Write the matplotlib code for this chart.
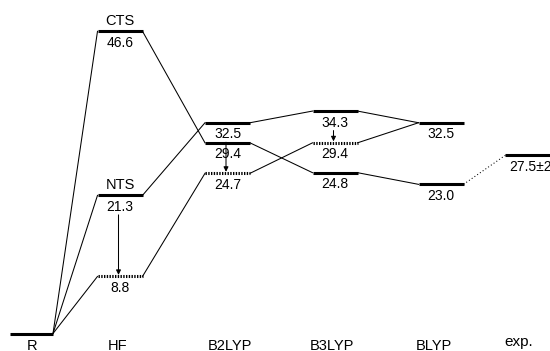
import matplotlib
matplotlib.use("Agg")
import matplotlib.pyplot as plt

# Energy levels (kcal/mol) relative to the reactant R
methods = ["R", "HF", "B2LYP", "B3LYP", "BLYP", "exp."]
reactant_energy = 0.0
cts_energy = [46.6, 29.4, 24.8, 23.0]        # HF, B2LYP, B3LYP, BLYP
nts_energy = [21.3, 32.5, 34.3, 32.5]        # HF, B2LYP, B3LYP, BLYP
nts_corr_energy = [8.8, 24.7, 29.4]          # HF, B2LYP, B3LYP (dashed)
exp_energy = 27.5
exp_label = "27.5\u00b12"

# Layout (pixel-like horizontal units)
centers = [31.5, 120, 227.5, 335, 441, 528]
label_x = [32, 118, 230, 332, 434, 519]
label_base_px = [350.5, 350.5, 350.5, 350.5, 350.5, 346]
half = 22.5
px_per_unit = 6.485
y0_px = 333.5
H_px, W_px = 351, 550

plt.rcParams["font.family"] = ["Liberation Sans", "DejaVu Sans"]
fig = plt.figure(figsize=(5.5, 3.51), dpi=100)
ax = fig.add_axes([0, 0, 1, 1])
ax.set_xlim(0, W_px)
ax.set_ylim(-(H_px - y0_px) / px_per_unit, y0_px / px_per_unit)
ax.axis("off")

BAR_LW = 2.2
LINK_LW = 0.75
NUM_FS = 10
NAME_FS = 10.5


def pt(px):
    return px / 1.389


def bar(i, v, dashed=False, x0=None, x1=None):
    a = centers[i] - half if x0 is None else x0
    b = centers[i] + half if x1 is None else x1
    ls = (0, (0.45, 0.45)) if dashed else "-"
    ax.plot([a, b], [v, v], color="black", lw=BAR_LW, ls=ls,
            solid_capstyle="butt", dash_capstyle="butt")


def link(i, v1, j, v2, ls="-"):
    ax.plot([centers[i] + half, centers[j] - half], [v1, v2],
            color="black", lw=LINK_LW, ls=ls)


def value_label(i, v, text=None, x=None):
    ax.annotate(text if text is not None else f"{v:.1f}",
                xy=(centers[i] if x is None else x, v),
                xytext=(0, -pt(15.5)), textcoords="offset points",
                ha="center", va="baseline", fontsize=NUM_FS)


def name_label(i, v, text):
    ax.annotate(text, xy=(centers[i], v), xytext=(0, pt(6.5)),
                textcoords="offset points", ha="center", va="baseline",
                fontsize=NAME_FS)


def arrow(i, v_from, v_to):
    x = centers[i] - 1.5
    start = v_from - 19.5 / px_per_unit
    tip = v_to + 1.5 / px_per_unit
    ax.annotate("", xy=(x, tip), xytext=(x, start),
                arrowprops=dict(arrowstyle="-|>", lw=LINK_LW, color="black",
                                mutation_scale=7, shrinkA=0, shrinkB=0))


# Reactant
bar(0, reactant_energy, x0=10, x1=53)

# Levels for HF .. BLYP
for k in range(4):
    i = k + 1
    bar(i, cts_energy[k])
    value_label(i, cts_energy[k])
    bar(i, nts_energy[k])
    value_label(i, nts_energy[k])
    if k < 3:
        bar(i, nts_corr_energy[k], dashed=True)
        value_label(i, nts_corr_energy[k])
        arrow(i, nts_energy[k], nts_corr_energy[k])

name_label(1, cts_energy[0], "CTS")
name_label(1, nts_energy[0], "NTS")

# Connectors from R
for v in (cts_energy[0], nts_energy[0], nts_corr_energy[0]):
    ax.plot([53, centers[1] - half], [reactant_energy, v], color="black", lw=LINK_LW)

# Connectors between methods
for k in range(3):
    link(k + 1, cts_energy[k], k + 2, cts_energy[k + 1])
    link(k + 1, nts_energy[k], k + 2, nts_energy[k + 1])
for k in range(2):
    link(k + 1, nts_corr_energy[k], k + 2, nts_corr_energy[k + 1])
link(3, nts_corr_energy[2], 4, nts_energy[3])

# Experiment
bar(5, exp_energy, x0=505, x1=560)
link(4, cts_energy[3], 5, exp_energy, ls=(0, (1, 2.2)))
ax.annotate(exp_label, xy=(509, exp_energy), xytext=(0, -pt(15.5)),
            textcoords="offset points", ha="left", va="baseline", fontsize=NUM_FS)

# Method labels
for x, yb, m in zip(label_x, label_base_px, methods):
    ax.text(x, -(yb - y0_px) / px_per_unit, m, ha="center", va="baseline",
            fontsize=NAME_FS if m != "exp." else 11)

fig.savefig("out.png", dpi=100)
